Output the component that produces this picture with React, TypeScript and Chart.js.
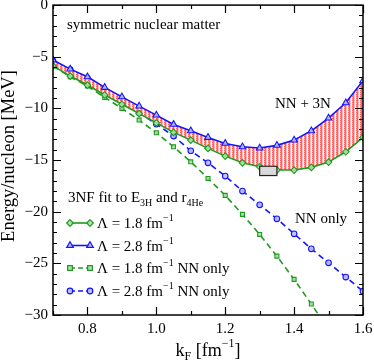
import { useEffect, useRef } from 'react';
import { Chart, registerables } from 'chart.js';

Chart.register(...registerables);

const FONT = '"Liberation Serif", "Times New Roman", serif';

// Fermi momentum k_F [fm^-1]
const kF = [0.7, 0.75, 0.8, 0.85, 0.9, 0.95, 1.0, 1.05, 1.1, 1.15, 1.2, 1.25, 1.3, 1.35, 1.4, 1.45, 1.5, 1.55, 1.6];

// Energy per nucleon [MeV]
const e18_3N = [-5.88, -6.87, -7.74, -8.7, -9.6, -10.5, -11.4, -12.32, -13.07, -13.87, -14.62, -15.27, -15.65, -15.97, -15.97, -15.71, -15.2, -14.2, -12.81];
const e28_3N = [-5.32, -6.2, -6.94, -7.97, -8.88, -9.78, -10.65, -11.55, -12.17, -12.81, -13.39, -13.72, -13.84, -13.58, -13.07, -12.17, -10.94, -9.46, -7.33];
const e18_NN = [-5.9, -6.94, -7.84, -8.94, -10.0, -11.13, -12.36, -13.72, -15.17, -16.78, -18.42, -20.26, -22.2, -24.3, -26.55, -28.94, -31.4];
const e28_NN = [-5.4, -6.25, -7.1, -8.3, -9.2, -10.43, -11.52, -12.68, -14.1, -15.27, -16.55, -18.0, -19.33, -20.69, -22.14, -23.59, -24.95, -26.33, -27.69];

// empirical saturation region
const satBoxKF = [1.3, 1.35];
const satBoxE = [-15.6, -16.5];

// ticks
const xTicks = [0.7, 0.8, 0.9, 1.0, 1.1, 1.2, 1.3, 1.4, 1.5, 1.6];
const xTickLabels = ['', '0.8', '', '1.0', '', '1.2', '', '1.4', '', '1.6'];
const yMajor = [-30, -25, -20, -15, -10, -5, 0];
const yMinorStep = 1;

const GREEN = '#1f9a1f';
const BLUE = '#1414ff';
const GREEN_FILL = 'rgba(170,225,170,0.9)';
const BLUE_FILL = 'rgba(190,190,255,0.9)';

const legendLabels = ['1.8', '2.8', '1.8', '2.8'];
const legendSuffix = ['', '', ' NN only', ' NN only'];

type Seg = { t: string; s: number; dy?: number };

function drawRich(ctx: CanvasRenderingContext2D, segs: Seg[], x: number, y: number, align: 'left' | 'center' = 'left') {
  ctx.textBaseline = 'alphabetic';
  ctx.textAlign = 'left';
  let total = 0;
  const widths = segs.map((g) => {
    ctx.font = `${g.s}px ${FONT}`;
    const w = ctx.measureText(g.t).width;
    total += w;
    return w;
  });
  let cx = align === 'center' ? x - total / 2 : x;
  segs.forEach((g, i) => {
    ctx.font = `${g.s}px ${FONT}`;
    ctx.fillText(g.t, cx, y + (g.dy || 0));
    cx += widths[i];
  });
}

const RADIUS: Record<string, number> = { rectRot: 3.3, triangle: 3.8, rect: 2.8, circle: 2.8 };

function drawMarker(ctx: CanvasRenderingContext2D, kind: string, x: number, y: number, color: string, fill: string) {
  ctx.save();
  ctx.strokeStyle = color;
  ctx.fillStyle = fill;
  ctx.lineWidth = 1.2;
  ctx.beginPath();
  const r = RADIUS[kind];
  if (kind === 'rectRot') {
    ctx.moveTo(x, y - r); ctx.lineTo(x + r, y); ctx.lineTo(x, y + r); ctx.lineTo(x - r, y); ctx.closePath();
  } else if (kind === 'triangle') {
    ctx.moveTo(x, y - r); ctx.lineTo(x + r * 0.866, y + r * 0.5); ctx.lineTo(x - r * 0.866, y + r * 0.5); ctx.closePath();
  } else if (kind === 'rect') {
    const h = r / Math.SQRT2 * 1.2;
    ctx.rect(x - h, y - h, 2 * h, 2 * h);
  } else {
    ctx.arc(x, y, r, 0, Math.PI * 2);
  }
  ctx.fill();
  ctx.stroke();
  ctx.restore();
}

function makePattern(): CanvasPattern | string {
  const c = document.createElement('canvas');
  c.width = 4;
  c.height = 2;
  const g = c.getContext('2d');
  if (!g) return 'rgba(255,120,120,0.6)';
  g.fillStyle = '#ffffff';
  g.fillRect(0, 0, 4, 2);
  g.fillStyle = '#ff6464';
  g.fillRect(0, 0, 2, 1);
  g.fillRect(1, 1, 1, 1);
  g.fillStyle = '#ffbcbc';
  g.fillRect(0, 1, 1, 1);
  g.fillRect(2, 0, 1, 1);
  g.fillRect(2, 1, 1, 1);
  const p = g.createPattern(c, 'repeat');
  return p || 'rgba(255,120,120,0.6)';
}

const styles = [
  { color: GREEN, fill: GREEN_FILL, point: 'rectRot', dash: [] as number[] },
  { color: BLUE, fill: BLUE_FILL, point: 'triangle', dash: [] as number[] },
  { color: GREEN, fill: GREEN_FILL, point: 'rect', dash: [6, 4] },
  { color: BLUE, fill: BLUE_FILL, point: 'circle', dash: [6, 4] },
];

const overlay = {
  id: 'overlay',
  afterDraw(chart: any) {
    const { ctx, chartArea, scales } = chart;
    const { left, right, top, bottom } = chartArea;
    const x = scales.x;
    const y = scales.y;
    ctx.save();

    // saturation box
    const bx0 = x.getPixelForValue(satBoxKF[0]);
    const bx1 = x.getPixelForValue(satBoxKF[1]);
    const by0 = y.getPixelForValue(satBoxE[0]);
    const by1 = y.getPixelForValue(satBoxE[1]);
    ctx.fillStyle = '#d9d9d9';
    ctx.fillRect(bx0, by0, bx1 - bx0, by1 - by0);
    ctx.strokeStyle = '#222';
    ctx.lineWidth = 1.2;
    ctx.strokeRect(bx0, by0, bx1 - bx0, by1 - by0);

    // frame
    ctx.strokeStyle = '#000';
    ctx.lineWidth = 1.5;
    ctx.strokeRect(left, top, right - left, bottom - top);

    // ticks
    ctx.lineWidth = 1.2;
    ctx.beginPath();
    xTicks.forEach((v, i) => {
      const px = Math.round(x.getPixelForValue(v)) + 0.5;
      const len = xTickLabels[i] !== '' || Math.round(v * 10) % 2 === 0 ? 8 : 4;
      ctx.moveTo(px, bottom); ctx.lineTo(px, bottom - len);
      ctx.moveTo(px, top); ctx.lineTo(px, top + len);
    });
    for (let v = yMajor[0]; v <= yMajor[yMajor.length - 1]; v += yMinorStep) {
      const py = Math.round(y.getPixelForValue(v)) + 0.5;
      const len = yMajor.includes(v) ? 8 : 4;
      ctx.moveTo(left, py); ctx.lineTo(left + len, py);
      ctx.moveTo(right, py); ctx.lineTo(right - len, py);
    }
    ctx.stroke();

    ctx.fillStyle = '#000';
    // annotations
    drawRich(ctx, [{ t: 'symmetric nuclear matter', s: 15 }], 67, 29);
    drawRich(ctx, [{ t: 'NN + 3N', s: 15 }], 275, 108);
    drawRich(ctx, [{ t: 'NN only', s: 15 }], 295, 223);
    drawRich(ctx, [
      { t: '3NF fit to E', s: 15 },
      { t: '3H', s: 10, dy: 4 },
      { t: ' and r', s: 15 },
      { t: '4He', s: 10, dy: 4 },
    ], 68, 202);

    // legend
    const rows = [223, 245.5, 268, 291];
    rows.forEach((ry, i) => {
      const st = styles[i];
      ctx.save();
      ctx.strokeStyle = st.color;
      ctx.lineWidth = 1.6;
      ctx.setLineDash(st.dash.length ? [5, 3] : []);
      ctx.beginPath();
      ctx.moveTo(70, ry); ctx.lineTo(90, ry);
      ctx.stroke();
      ctx.restore();
      drawMarker(ctx, st.point, 70, ry, st.color, st.fill);
      drawMarker(ctx, st.point, 90, ry, st.color, st.fill);
      ctx.fillStyle = '#000';
      drawRich(ctx, [
        { t: `\u039B = ${legendLabels[i]} fm`, s: 15 },
        { t: '\u22121', s: 10, dy: -7 },
        { t: legendSuffix[i], s: 15 },
      ], 97, ry + 5);
    });

    // axis titles
    drawRich(ctx, [
      { t: 'k', s: 18 },
      { t: 'F', s: 12, dy: 4 },
      { t: ' [fm', s: 18 },
      { t: '\u22121', s: 12, dy: -9 },
      { t: ']', s: 18 },
    ], (left + right) / 2, 356, 'center');

    ctx.save();
    ctx.translate(14, 156);
    ctx.rotate(-Math.PI / 2);
    drawRich(ctx, [{ t: 'Energy/nucleon [MeV]', s: 18.5 }], 0, 0, 'center');
    ctx.restore();

    ctx.restore();
  },
};

export default function App() {
  const ref = useRef<HTMLCanvasElement>(null);

  useEffect(() => {
    document.body.style.margin = '0';
    const canvas = ref.current;
    if (!canvas) return;
    const pattern = makePattern();
    const series = [e18_3N, e28_3N, e18_NN, e28_NN];
    const datasets = series.map((arr, i) => {
      const st = styles[i];
      return {
        label: `L${i}`,
        data: arr.map((v, j) => ({ x: kF[j], y: v })),
        borderColor: st.color,
        borderWidth: 1.6,
        borderDash: st.dash,
        pointStyle: st.point,
        pointRadius: RADIUS[st.point],
        pointBorderWidth: 1.1,
        pointBorderColor: st.color,
        pointBackgroundColor: st.fill,
        backgroundColor: i === 1 ? pattern : 'transparent',
        fill: i === 1 ? { target: 0 } : false,
        tension: 0,
      } as any;
    });

    const chart = new Chart(canvas, {
      type: 'line',
      data: { datasets },
      options: {
        animation: false,
        responsive: false,
        devicePixelRatio: 1,
        layout: { padding: { left: 8, top: 5, right: 11, bottom: 9 } },
        plugins: { legend: { display: false }, tooltip: { enabled: false } },
        scales: {
          x: {
            type: 'linear',
            min: 0.7,
            max: 1.6,
            grid: { display: false, drawTicks: false },
            border: { display: false },
            afterBuildTicks: (s: any) => {
              s.ticks = xTicks.map((v) => ({ value: v }));
            },
            afterFit: (s: any) => {
              s.height = 40;
              s.paddingLeft = 0;
              s.paddingRight = 0;
            },
            ticks: {
              autoSkip: false,
              maxRotation: 0,
              padding: 5,
              color: '#000',
              font: { family: FONT, size: 15 },
              callback: (_v: any, idx: number) => xTickLabels[idx],
            },
          },
          y: {
            type: 'linear',
            min: yMajor[0],
            max: yMajor[yMajor.length - 1],
            grid: { display: false, drawTicks: false },
            border: { display: false },
            afterBuildTicks: (s: any) => {
              s.ticks = yMajor.map((v) => ({ value: v }));
            },
            afterFit: (s: any) => {
              s.width = 45;
              s.paddingTop = 0;
              s.paddingBottom = 0;
            },
            ticks: {
              autoSkip: false,
              padding: 5,
              color: '#000',
              font: { family: FONT, size: 15 },
              callback: (v: any) => (Number(v) < 0 ? '\u2212' + Math.abs(Number(v)) : String(v)),
            },
          },
        },
      },
      plugins: [overlay],
    });
    return () => chart.destroy();
  }, []);

  return <canvas ref={ref} width={374} height={364} style={{ display: 'block' }} />;
}
